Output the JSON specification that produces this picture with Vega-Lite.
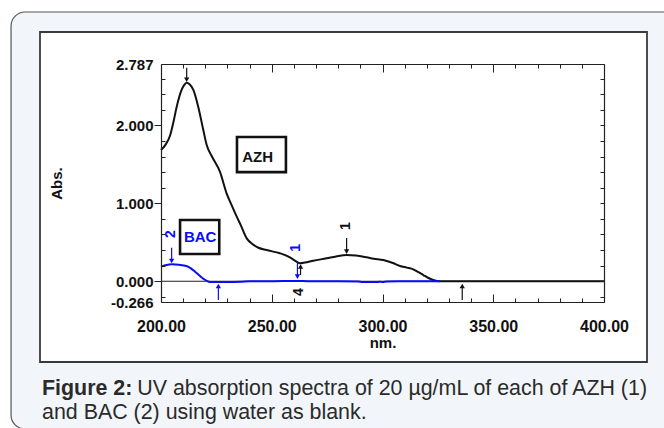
{
  "$schema": "https://vega.github.io/schema/vega-lite/v6.json",
  "width": 443,
  "height": 238,
  "autosize": "none",
  "padding": {"left": 161, "top": 64, "right": 60, "bottom": 126},
  "background": "white",
  "config": {
    "view": {"stroke": null},
    "font": "Liberation Sans",
    "axis": {"grid": false, "domainColor": "#222222", "tickColor": "#222222", "labelColor": "#111111", "titleColor": "#111111", "labelFont": "Liberation Sans", "titleFont": "Liberation Sans", "labelOverlap": false, "labelBound": false, "labelFlush": false, "domainWidth": 1.2, "tickWidth": 1}
  },
  "datasets": {
    "one": [{}],
    "azh": [
      {"nm": 200, "abs": 1.684}, {"nm": 202, "abs": 1.75}, {"nm": 204.1, "abs": 1.87}, {"nm": 205.6, "abs": 2.04},
      {"nm": 207.1, "abs": 2.24}, {"nm": 209.3, "abs": 2.454}, {"nm": 210.5, "abs": 2.52}, {"nm": 211.6, "abs": 2.548},
      {"nm": 212.8, "abs": 2.53}, {"nm": 214.6, "abs": 2.454}, {"nm": 216.8, "abs": 2.24}, {"nm": 219.1, "abs": 1.94},
      {"nm": 220.6, "abs": 1.75}, {"nm": 223, "abs": 1.6}, {"nm": 226.6, "abs": 1.406}, {"nm": 229.7, "abs": 1.12},
      {"nm": 232, "abs": 0.97}, {"nm": 234.2, "abs": 0.829}, {"nm": 236, "abs": 0.72}, {"nm": 238.7, "abs": 0.55},
      {"nm": 241.6, "abs": 0.47}, {"nm": 244, "abs": 0.43}, {"nm": 247.6, "abs": 0.40}, {"nm": 253.7, "abs": 0.359},
      {"nm": 258.2, "abs": 0.307}, {"nm": 261, "abs": 0.255}, {"nm": 262.8, "abs": 0.23}, {"nm": 265, "abs": 0.24},
      {"nm": 268.8, "abs": 0.264}, {"nm": 274.8, "abs": 0.294}, {"nm": 279, "abs": 0.318}, {"nm": 283.8, "abs": 0.337},
      {"nm": 288, "abs": 0.33}, {"nm": 292.9, "abs": 0.307}, {"nm": 296, "abs": 0.29}, {"nm": 300.4, "abs": 0.273},
      {"nm": 304.7, "abs": 0.234}, {"nm": 307.9, "abs": 0.196}, {"nm": 311, "abs": 0.175}, {"nm": 313.9, "abs": 0.153},
      {"nm": 316, "abs": 0.12}, {"nm": 318.4, "abs": 0.08}, {"nm": 320.5, "abs": 0.045}, {"nm": 322.9, "abs": 0.016},
      {"nm": 326, "abs": 0.0}, {"nm": 400, "abs": 0.0}
    ],
    "bac": [
      {"nm": 200, "abs": 0.187}, {"nm": 202, "abs": 0.205}, {"nm": 205, "abs": 0.218}, {"nm": 208, "abs": 0.212},
      {"nm": 211.5, "abs": 0.196}, {"nm": 213.5, "abs": 0.165}, {"nm": 215.5, "abs": 0.12}, {"nm": 217.5, "abs": 0.07},
      {"nm": 219.5, "abs": 0.025}, {"nm": 221.5, "abs": -0.005}, {"nm": 223, "abs": -0.01}, {"nm": 230, "abs": -0.01},
      {"nm": 236, "abs": -0.006}, {"nm": 240, "abs": 0.0}, {"nm": 250, "abs": 0.0}, {"nm": 260, "abs": 0.004},
      {"nm": 264, "abs": 0.003}, {"nm": 270, "abs": 0.0}, {"nm": 280, "abs": 0.0}, {"nm": 289, "abs": -0.003},
      {"nm": 291, "abs": -0.01}, {"nm": 296, "abs": -0.01}, {"nm": 299, "abs": -0.006}, {"nm": 300, "abs": -0.01},
      {"nm": 302, "abs": -0.002}, {"nm": 310, "abs": 0.0}, {"nm": 326, "abs": 0.0}
    ],
    "arrows": [
      {"nm": 211.6, "tail": 2.74, "head": 2.585, "series": "AZH", "dir": "down"},
      {"nm": 283.8, "tail": 0.555, "head": 0.38, "series": "AZH", "dir": "down"},
      {"nm": 263, "tail": 0.08, "head": 0.19, "series": "AZH", "dir": "up"},
      {"nm": 261.6, "tail": 0.25, "head": 0.06, "series": "BAC", "dir": "down"},
      {"nm": 204.8, "tail": 0.43, "head": 0.26, "series": "BAC", "dir": "down"},
      {"nm": 225.9, "tail": -0.24, "head": -0.06, "series": "BAC", "dir": "up"},
      {"nm": 336, "tail": -0.24, "head": -0.06, "series": "AZH", "dir": "up"}
    ],
    "marks": [
      {"nm": 283.5, "abs": 0.709, "label": "1", "series": "AZH"},
      {"nm": 260.95, "abs": 0.427, "label": "1", "series": "BAC"},
      {"nm": 204.74, "abs": 0.606, "label": "2", "series": "BAC"},
      {"nm": 262.3, "abs": -0.138, "label": "4", "series": "AZH"}
    ],
    "boxes": [
      {"x1": 234.3, "x2": 256.4, "y1": 1.40, "y2": 1.85, "tx": 243.6, "ty": 1.588, "label": "AZH", "series": "AZH"},
      {"x1": 208.6, "x2": 226.3, "y1": 0.35, "y2": 0.786, "tx": 217.7, "ty": 0.572, "label": "BAC", "series": "BAC"}
    ]
  },
  "layer": [
    {
      "data": {"name": "one"},
      "mark": {"type": "rect", "fill": "#f2f6fa", "stroke": "#555555", "strokeWidth": 1.2, "cornerRadius": 14, "clip": false},
      "encoding": {
        "x": {"datum": 132.3, "type": "quantitative", "scale": {"domain": [200, 400], "nice": false, "zero": false}, "axis": null},
        "x2": {"datum": 434},
        "y": {"datum": 3.454, "type": "quantitative", "scale": {"domain": [-0.266, 2.787], "nice": false, "zero": false}, "axis": null},
        "y2": {"datum": -1.895}
      }
    },
    {
      "data": {"name": "one"},
      "mark": {"type": "rect", "fill": "white", "stroke": "#3a3a3a", "strokeWidth": 1.8, "clip": false},
      "encoding": {
        "x": {"datum": 145.37, "type": "quantitative", "scale": {"domain": [200, 400], "nice": false, "zero": false}, "axis": null},
        "x2": {"datum": 419.41},
        "y": {"datum": 3.1975, "type": "quantitative", "scale": {"domain": [-0.266, 2.787], "nice": false, "zero": false}, "axis": null},
        "y2": {"datum": -1.0357}
      }
    },
    {
      "data": {"name": "one"},
      "mark": {"type": "rule", "stroke": "#222222", "strokeWidth": 1},
      "encoding": {
        "y": {"datum": 0, "type": "quantitative", "scale": {"domain": [-0.266, 2.787], "nice": false, "zero": false}, "axis": null}
      }
    },
    {
      "data": {"name": "azh"},
      "mark": {"type": "line", "stroke": "#111111", "strokeWidth": 2, "interpolate": "monotone"},
      "encoding": {
        "x": {"field": "nm", "type": "quantitative", "scale": {"domain": [200, 400], "nice": false, "zero": false},
          "axis": {"orient": "bottom", "zindex": 2, "values": [200, 210, 220, 230, 240, 250, 260, 270, 280, 290, 300, 310, 320, 330, 340, 350, 360, 370, 380, 390, 400],
            "labelExpr": "datum.value % 50 === 0 ? format(datum.value, '.2f') : ''",
            "tickSize": {"condition": {"test": "datum.value % 50 === 0", "value": -8}, "value": -4},
            "labelPadding": 24, "labelFontSize": 16, "labelFontWeight": "bold",
            "title": "nm.", "titleFontSize": 15, "titleFontWeight": "bold", "titlePadding": -3}},
        "y": {"field": "abs", "type": "quantitative", "scale": {"domain": [-0.266, 2.787], "nice": false, "zero": false},
          "axis": {"orient": "left", "zindex": 2, "values": [-0.266, -0.2, 0, 0.2, 0.4, 0.6, 0.8, 1, 1.2, 1.4, 1.6, 1.8, 2, 2.2, 2.4, 2.6, 2.787],
            "labelExpr": "datum.value < -0.25 ? '-0.266' : ((datum.value === 0 || datum.value === 1 || datum.value === 2 || datum.value > 2.7) ? format(datum.value, '.3f') : '')",
            "tickSize": {"condition": {"test": "datum.value === 0 || datum.value === 1 || datum.value === 2 || datum.value < -0.25 || datum.value > 2.7", "value": 7}, "value": -4},
            "tickOpacity": {"condition": {"test": "datum.value < -0.25 || datum.value > 2.7", "value": 0}, "value": 1},
            "labelPadding": 1, "labelFontSize": 15, "labelFontWeight": "bold",
            "title": "Abs.", "titleFontSize": 15, "titleFontWeight": "bold", "titlePadding": 46}}
      }
    },
    {
      "data": {"name": "bac"},
      "mark": {"type": "line", "stroke": "#0a0aff", "strokeWidth": 2, "interpolate": "monotone"},
      "encoding": {
        "x": {"field": "nm", "type": "quantitative", "scale": {"domain": [200, 400], "nice": false, "zero": false},
          "axis": {"orient": "top", "zindex": 2, "values": [200, 210, 220, 230, 240, 250, 260, 270, 280, 290, 300, 310, 320, 330, 340, 350, 360, 370, 380, 390, 400],
            "labels": false, "tickSize": {"condition": {"test": "datum.value % 50 === 0", "value": -8}, "value": -4}, "title": null}},
        "y": {"field": "abs", "type": "quantitative", "scale": {"domain": [-0.266, 2.787], "nice": false, "zero": false},
          "axis": {"orient": "right", "zindex": 2, "values": [-0.2, 0, 0.2, 0.4, 0.6, 0.8, 1, 1.2, 1.4, 1.6, 1.8, 2, 2.2, 2.4, 2.6],
            "labels": false, "tickSize": -4, "title": null}}
      }
    },
    {
      "data": {"name": "arrows"},
      "mark": {"type": "rule", "strokeWidth": 1.2},
      "encoding": {
        "x": {"field": "nm", "type": "quantitative", "scale": {"domain": [200, 400], "nice": false, "zero": false}, "axis": null},
        "y": {"field": "tail", "type": "quantitative", "scale": {"domain": [-0.266, 2.787], "nice": false, "zero": false}, "axis": null},
        "y2": {"field": "head"},
        "color": {"field": "series", "type": "nominal", "scale": {"domain": ["AZH", "BAC"], "range": ["#111111", "#0a0aff"]}, "legend": null}
      }
    },
    {
      "data": {"name": "arrows"},
      "mark": {"type": "point", "filled": true, "size": 28, "opacity": 1},
      "encoding": {
        "x": {"field": "nm", "type": "quantitative", "scale": {"domain": [200, 400], "nice": false, "zero": false}, "axis": null},
        "y": {"field": "head", "type": "quantitative", "scale": {"domain": [-0.266, 2.787], "nice": false, "zero": false}, "axis": null},
        "shape": {"field": "dir", "type": "nominal", "scale": {"domain": ["down", "up"], "range": ["triangle-down", "triangle-up"]}, "legend": null},
        "color": {"field": "series", "type": "nominal", "scale": {"domain": ["AZH", "BAC"], "range": ["#111111", "#0a0aff"]}, "legend": null}
      }
    },
    {
      "data": {"name": "marks"},
      "mark": {"type": "text", "angle": 270, "fontSize": 14, "fontWeight": "bold", "align": "center", "baseline": "middle"},
      "encoding": {
        "x": {"field": "nm", "type": "quantitative", "scale": {"domain": [200, 400], "nice": false, "zero": false}, "axis": null},
        "y": {"field": "abs", "type": "quantitative", "scale": {"domain": [-0.266, 2.787], "nice": false, "zero": false}, "axis": null},
        "text": {"field": "label"},
        "color": {"field": "series", "type": "nominal", "scale": {"domain": ["AZH", "BAC"], "range": ["#111111", "#0a0aff"]}, "legend": null}
      }
    },
    {
      "data": {"name": "boxes"},
      "mark": {"type": "rect", "fill": null, "stroke": "#111111", "strokeWidth": 2.6},
      "encoding": {
        "x": {"field": "x1", "type": "quantitative", "scale": {"domain": [200, 400], "nice": false, "zero": false}, "axis": null},
        "x2": {"field": "x2"},
        "y": {"field": "y1", "type": "quantitative", "scale": {"domain": [-0.266, 2.787], "nice": false, "zero": false}, "axis": null},
        "y2": {"field": "y2"}
      }
    },
    {
      "data": {"name": "boxes"},
      "mark": {"type": "text", "fontSize": 15, "fontWeight": "bold", "align": "center", "baseline": "middle"},
      "encoding": {
        "x": {"field": "tx", "type": "quantitative", "scale": {"domain": [200, 400], "nice": false, "zero": false}, "axis": null},
        "y": {"field": "ty", "type": "quantitative", "scale": {"domain": [-0.266, 2.787], "nice": false, "zero": false}, "axis": null},
        "text": {"field": "label"},
        "color": {"field": "series", "type": "nominal", "scale": {"domain": ["AZH", "BAC"], "range": ["#111111", "#0a0aff"]}, "legend": null}
      }
    },
    {
      "data": {"name": "one"},
      "mark": {"type": "text", "text": "Figure 2:", "fontSize": 21.4, "fontWeight": "bold", "align": "left", "baseline": "alphabetic", "color": "#2a2a2a", "clip": false},
      "encoding": {
        "x": {"datum": 146.28, "type": "quantitative", "scale": {"domain": [200, 400], "nice": false, "zero": false}, "axis": null},
        "y": {"datum": -1.459, "type": "quantitative", "scale": {"domain": [-0.266, 2.787], "nice": false, "zero": false}, "axis": null}
      }
    },
    {
      "data": {"name": "one"},
      "mark": {"type": "text", "text": "UV absorption spectra of 20 µg/mL of each of AZH (1)", "fontSize": 21.4, "align": "left", "baseline": "alphabetic", "color": "#2a2a2a", "clip": false},
      "encoding": {
        "x": {"datum": 189.3, "type": "quantitative", "scale": {"domain": [200, 400], "nice": false, "zero": false}, "axis": null},
        "y": {"datum": -1.459, "type": "quantitative", "scale": {"domain": [-0.266, 2.787], "nice": false, "zero": false}, "axis": null}
      }
    },
    {
      "data": {"name": "one"},
      "mark": {"type": "text", "text": "and BAC (2) using water as blank.", "fontSize": 21.4, "align": "left", "baseline": "alphabetic", "color": "#2a2a2a", "clip": false},
      "encoding": {
        "x": {"datum": 146.28, "type": "quantitative", "scale": {"domain": [200, 400], "nice": false, "zero": false}, "axis": null},
        "y": {"datum": -1.767, "type": "quantitative", "scale": {"domain": [-0.266, 2.787], "nice": false, "zero": false}, "axis": null}
      }
    }
  ],
  "resolve": {"axis": {"x": "independent", "y": "independent"}}
}
